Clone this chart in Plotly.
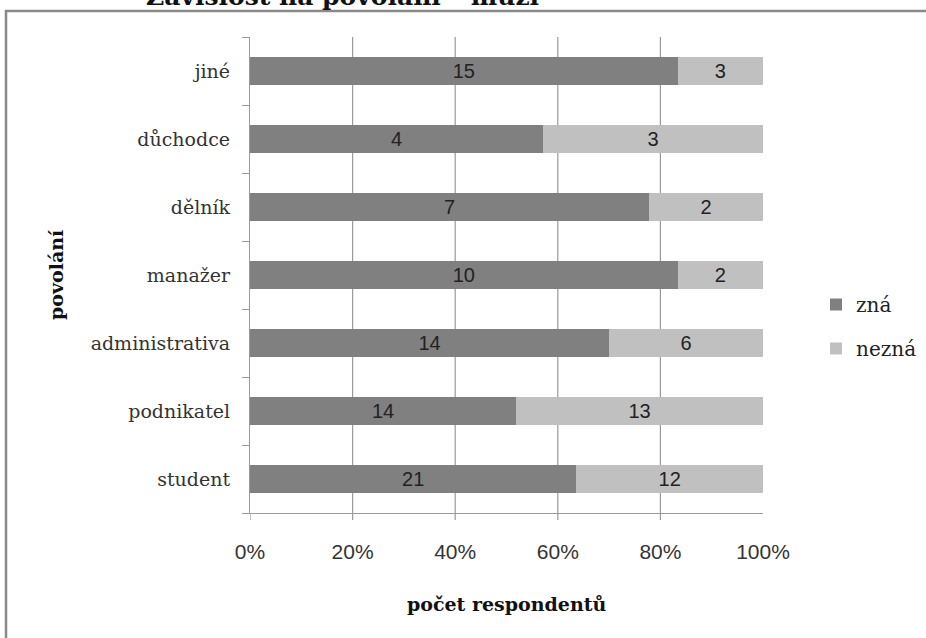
import plotly.graph_objects as go

# Occupations (bottom to top) and respondent counts
occupations = ["student", "podnikatel", "administrativa", "manažer", "dělník", "důchodce", "jiné"]
knows = [21, 14, 14, 10, 7, 4, 15]
not_knows = [12, 13, 6, 2, 2, 3, 3]
series_names = ["zná", "nezná"]
x_ticks = [0, 0.2, 0.4, 0.6, 0.8, 1.0]

DARK = "#808080"
LIGHT = "#c0c0c0"
LINE = "#9a9a9a"

W, H = 926, 638
L, R, T, B = 250, 763, 37, 513


def px_x(p):
    return (p - L) / (R - L)


def px_y(p):
    return (B - p) / (B - T)


fig = go.Figure()
for name, vals, col in [(series_names[0], knows, DARK), (series_names[1], not_knows, LIGHT)]:
    fig.add_trace(go.Bar(
        y=occupations, x=vals, name=name, orientation="h",
        marker=dict(color=col, line=dict(width=0)),
        text=vals, texttemplate="%{text}", textposition="inside",
        insidetextanchor="middle", textangle=0, constraintext="none",
        textfont=dict(family="Liberation Sans", size=20, color="#222222"),
        legendgroup=name, hoverinfo="skip",
    ))

shapes = []
# vertical gridlines (not at the right edge)
for v in x_ticks[1:-1]:
    shapes.append(dict(type="line", xref="x", yref="paper", x0=v, x1=v, y0=0, y1=1,
                       line=dict(color=LINE, width=1.2), layer="below"))
# tick marks below the category axis
for v in x_ticks[:-1]:
    shapes.append(dict(type="line", xref="x", yref="paper", x0=v, x1=v, y0=0, y1=px_y(B + 7),
                       line=dict(color=LINE, width=1.2)))
# outer chart frame
shapes.append(dict(type="rect", xref="paper", yref="paper",
                   x0=px_x(6), x1=px_x(950), y0=px_y(700), y1=px_y(11),
                   line=dict(color="#8a8a8a", width=2.5), fillcolor="rgba(0,0,0,0)"))

annotations = [
    dict(text="<b>Závislost na povolání – muži</b>", xref="paper", yref="paper",
         x=px_x(342), y=px_y(-4), xanchor="center", yanchor="middle", showarrow=False,
         font=dict(family="DejaVu Serif", size=25, color="#111111")),
    dict(text="<b>povolání</b>", xref="paper", yref="paper",
         x=px_x(56), y=px_y(275), xanchor="center", yanchor="middle", textangle=-90,
         showarrow=False, font=dict(family="DejaVu Serif", size=19, color="#111111")),
    dict(text="<b>počet respondentů</b>", xref="paper", yref="paper",
         x=px_x(507), y=px_y(604), xanchor="center", yanchor="middle",
         showarrow=False, font=dict(family="DejaVu Serif", size=19, color="#111111")),
]

fig.update_layout(
    width=W, height=H, autosize=False,
    margin=dict(l=L, r=W - R, t=T, b=H - B, pad=0, autoexpand=False),
    paper_bgcolor="white", plot_bgcolor="white",
    barmode="stack", barnorm="fraction", bargap=0.59,
    showlegend=True,
    legend=dict(x=px_x(816), y=px_y(285), xanchor="left", yanchor="top",
                traceorder="grouped", tracegroupgap=15, bgcolor="rgba(0,0,0,0)",
                font=dict(family="DejaVu Serif", size=20, color="#222222")),
    shapes=shapes, annotations=annotations,
    xaxis=dict(range=[0, 1], tickvals=x_ticks, tickformat=".0%", showgrid=False,
               zeroline=False, showline=True, linecolor=LINE, linewidth=1.2,
               ticks="", ticklabelstandoff=20,
               tickfont=dict(family="Liberation Sans", size=21, color="#333333")),
    yaxis=dict(type="category", categoryorder="array", categoryarray=occupations,
               showgrid=False, zeroline=False, showline=True, linecolor=LINE, linewidth=1.2,
               ticks="outside", tickson="boundaries", ticklen=7, tickcolor=LINE, tickwidth=1.2,
               ticklabelstandoff=15,
               tickfont=dict(family="DejaVu Serif", size=19, color="#333333")),
)

fig.write_html("out.html")
